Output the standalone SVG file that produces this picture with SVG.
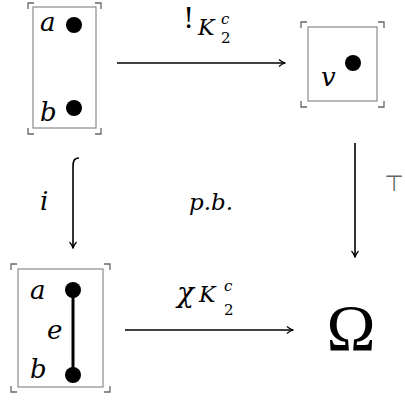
<svg xmlns="http://www.w3.org/2000/svg" width="405" height="404" viewBox="0 0 405 404">
<style>
.box{fill:none;stroke:#8a8a8a;stroke-width:1.2}
.brk{fill:none;stroke:#666;stroke-width:1.3}
.m{font-family:'DejaVu Serif',serif;font-style:italic;fill:#000}
.r{font-family:'DejaVu Serif',serif;fill:#000}
.arr{fill:none;stroke:#000;stroke-width:1.6}
.dot{fill:#000}
</style>
<defs>
<marker id="ah" viewBox="0 0 10 10" refX="9" refY="5" markerWidth="10" markerHeight="10" markerUnits="userSpaceOnUse" orient="auto">
<path d="M3,1.5 Q6,4.2 9,5 Q6,5.8 3,8.5" fill="none" stroke="#000" stroke-width="1.2"/>
</marker>
</defs>
<g id="node-K2c">
<rect class="box" x="33" y="7" width="63" height="121"/>
<path class="brk" d="M28,9 V3 H34 M95,3 H101 V9 M28,128 V134 H34 M95,134 H101 V128"/>
<text class="m" x="40" y="31" font-size="26">a</text>
<text class="m" x="40" y="121" font-size="26">b</text>
<circle class="dot" cx="74" cy="25" r="8"/>
<circle class="dot" cx="74" cy="108" r="8"/>
</g>
<g id="node-1">
<rect class="box" x="308" y="27" width="69" height="74"/>
<path class="brk" d="M301,28 V22 H307 M378,22 H384 V28 M301,101 V107 H307 M378,107 H384 V101"/>
<text class="m" x="321" y="86" font-size="26">v</text>
<circle class="dot" cx="353" cy="63" r="8"/>
</g>
<g id="node-K2">
<rect class="box" x="18" y="269" width="85" height="118"/>
<path class="brk" d="M11,270 V264 H17 M104,264 H110 V270 M11,386 V392 H17 M104,392 H110 V386"/>
<text class="m" x="30" y="299" font-size="26">a</text>
<text class="m" x="47" y="339" font-size="26">e</text>
<text class="m" x="30" y="378" font-size="26">b</text>
<line x1="73" y1="290" x2="73" y2="375" stroke="#000" stroke-width="3"/>
<circle class="dot" cx="73" cy="290" r="8"/>
<circle class="dot" cx="73" cy="375" r="8"/>
</g>
<g id="node-Omega">
<text x="351" y="350" font-size="66" text-anchor="middle" font-family="'Liberation Serif',serif">Ω</text>
</g>
<g id="connectors">
<line class="arr" x1="117" y1="63" x2="285" y2="63" marker-end="url(#ah)"/>
<line class="arr" x1="125" y1="330" x2="293" y2="330" marker-end="url(#ah)"/>
<path class="arr" d="M79,158 C74,158 73,161 73,167 L73,248" marker-end="url(#ah)"/>
<line class="arr" x1="355" y1="143" x2="355" y2="257" marker-end="url(#ah)"/>
<text class="r" x="183" y="28" font-size="28">!</text>
<text class="m" x="198" y="35" font-size="22">K</text>
<text class="m" x="221" y="24" font-size="15">c</text>
<text class="r" x="221" y="43" font-size="15">2</text>
<text class="m" x="177" y="302" font-size="28">χ</text>
<text class="m" x="199" y="302" font-size="22">K</text>
<text class="m" x="224" y="291" font-size="15">c</text>
<text class="r" x="224" y="315" font-size="15">2</text>
<text class="m" x="40" y="210" font-size="26">i</text>
<text class="m" x="189" y="210" font-size="23">p.b.</text>
<text x="394" y="191" font-size="22" text-anchor="middle" font-family="'DejaVu Sans',sans-serif" fill="#666">⊤</text>
</g>
</svg>
